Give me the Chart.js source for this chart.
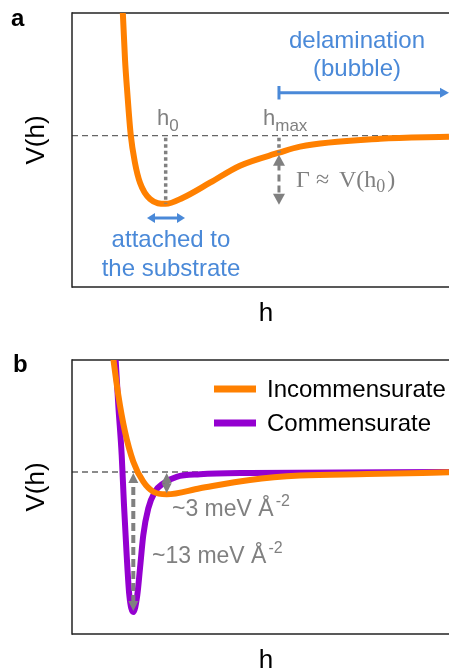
<!DOCTYPE html>
<html>
<head>
<meta charset="utf-8">
<script src="https://cdn.jsdelivr.net/npm/chart.js@4.4.0/dist/chart.umd.min.js"></script>
<style>
  body { margin: 0; background: #fff; width: 449px; height: 672px; overflow: hidden; }
  .panel { position: relative; width: 449px; height: 336px; }
  canvas { display: block; }
</style>
</head>
<body>
<div class="panel"><canvas id="chartA" width="449" height="336"></canvas></div>
<div class="panel"><canvas id="chartB" width="449" height="336"></canvas></div>
<script>
// panel a: adhesion potential V(h), arbitrary units
const hA = [13.2, 14.06, 14.67, 15.57, 16.71, 18.04, 20.69, 24.85, 29.44, 36.6, 44.56, 54.9, 60.5, 81.7, 100];
const vA = [2.15, 1.12, 0.63, 0.015, -0.4, -0.69, -0.93, -1.0, -0.91, -0.69, -0.44, -0.25, -0.16, -0.045, -0.015];
const h0A = 24.85;
const hMaxA = 54.9;

// panel b: incommensurate vs commensurate (meV/A^2)
const hInc = [10.48, 12.28, 14.06, 16.26, 18.91, 21.57, 25.12, 33.95, 47.2, 60.5, 78.25, 100];
const vInc = [11.8, 7.15, 3.74, 0.96, -0.9, -1.83, -2.07, -1.51, -0.74, -0.33, -0.19, -0.03];
const hCom = [11.27, 12.28, 13.18, 13.79, 14.5, 15.2, 16.26, 17.32, 18.04, 18.91, 20.24, 22.0, 24.22, 27.77, 33.95, 47.2, 100];
const vCom = [12.3, 6.22, 1.58, -3.06, -7.71, -11.42, -13, -11.42, -8.94, -5.85, -3.37, -1.83, -1.05, -0.44, -0.21, -0.09, 0];
const legendLabels = ["Incommensurate", "Commensurate"];

const ORANGE = "#ff8000";
const PURPLE = "#9400d0";
const BLUE = "#4a89d8";
const GREY = "#808080";
const SANS = "'Liberation Sans', Arial, sans-serif";
const SERIF = "'Liberation Serif', 'Times New Roman', serif";

function toPoints(xs, ys) {
  return xs.map((x, i) => ({ x: x, y: ys[i] }));
}

function line(ctx, x1, y1, x2, y2, color, width, dash) {
  ctx.save();
  ctx.strokeStyle = color;
  ctx.lineWidth = width;
  ctx.setLineDash(dash || []);
  ctx.beginPath();
  ctx.moveTo(x1, y1);
  ctx.lineTo(x2, y2);
  ctx.stroke();
  ctx.restore();
}

function head(ctx, x, y, ang, len, half, color) {
  ctx.save();
  ctx.fillStyle = color;
  ctx.translate(x, y);
  ctx.rotate(ang);
  ctx.beginPath();
  ctx.moveTo(0, 0);
  ctx.lineTo(-len, -half);
  ctx.lineTo(-len, half);
  ctx.closePath();
  ctx.fill();
  ctx.restore();
}

// arrow from (x1,y1) to (x2,y2), heads optional on either end
function arrow(ctx, x1, y1, x2, y2, o) {
  const ang = Math.atan2(y2 - y1, x2 - x1);
  const dx = Math.cos(ang) * o.len, dy = Math.sin(ang) * o.len;
  const sx = o.start ? x1 + dx * 0.8 : x1, sy = o.start ? y1 + dy * 0.8 : y1;
  const ex = o.end ? x2 - dx * 0.8 : x2, ey = o.end ? y2 - dy * 0.8 : y2;
  line(ctx, sx, sy, ex, ey, o.color, o.width, o.dash);
  if (o.end) head(ctx, x2, y2, ang, o.len, o.half, o.color);
  if (o.start) head(ctx, x1, y1, ang + Math.PI, o.len, o.half, o.color);
}

function text(ctx, str, x, y, font, color, align) {
  ctx.save();
  ctx.font = font;
  ctx.fillStyle = color;
  ctx.textAlign = align || "left";
  ctx.textBaseline = "alphabetic";
  ctx.fillText(str, x, y);
  const w = ctx.measureText(str).width;
  ctx.restore();
  return w;
}

function rotatedText(ctx, str, x, y, font, color) {
  ctx.save();
  ctx.translate(x, y);
  ctx.rotate(-Math.PI / 2);
  ctx.font = font;
  ctx.fillStyle = color;
  ctx.textAlign = "center";
  ctx.textBaseline = "middle";
  ctx.fillText(str, 0, 0);
  ctx.restore();
}

// frame (left, top, bottom) and the dashed V = 0 line, under the curves
const framePlugin = {
  id: "frame",
  beforeDatasetsDraw(chart) {
    const { ctx, chartArea: a, scales } = chart;
    const y0 = scales.y.getPixelForValue(0);
    line(ctx, a.left, y0, a.right, y0, "#666", 1.3, [6, 4]);
    line(ctx, a.left, a.top, a.right, a.top, "#222", 1.5);
    line(ctx, a.left, a.bottom, a.right, a.bottom, "#222", 1.5);
    line(ctx, a.left, a.top - 0.75, a.left, a.bottom + 0.75, "#222", 1.5);
  }
};

const notesA = {
  id: "notesA",
  afterDraw(chart) {
    const { ctx, scales } = chart;
    const x = scales.x, y = scales.y;
    const y0 = y.getPixelForValue(0);
    const xh0 = x.getPixelForValue(h0A);
    const yMin = y.getPixelForValue(Math.min(...vA));
    const xhm = x.getPixelForValue(hMaxA);
    const yhm = y.getPixelForValue(vA[hA.indexOf(hMaxA)]);

    line(ctx, xh0, y0 + 2, xh0, yMin, GREY, 3.5, [3.5, 3]);
    line(ctx, xhm, y0 + 2, xhm, yhm, GREY, 3.5, [3.5, 3]);
    arrow(ctx, xhm, yhm + 2, xhm, yMin + 1, { color: GREY, width: 3, dash: [7, 4], len: 11, half: 6, start: true, end: true });

    let w = text(ctx, "h", 157, 125, "22px " + SANS, GREY);
    text(ctx, "0", 157 + w, 131, "17px " + SANS, GREY);
    w = text(ctx, "h", 263, 125, "22px " + SANS, GREY);
    text(ctx, "max", 263 + w, 131, "17px " + SANS, GREY);

    // Gamma ~ V(h0), spaced like math text
    const f = "24px " + SERIF;
    text(ctx, "\u0393", 296, 187, f, GREY);
    text(ctx, "\u2248", 316, 187, f, GREY);
    w = text(ctx, "V(h", 339, 187, f, GREY);
    const w2 = text(ctx, "0", 339 + w, 192, "18px " + SERIF, GREY);
    text(ctx, ")", 339 + w + w2 + 2, 187, f, GREY);

    // delamination range
    line(ctx, xhm, 86, xhm, 99.5, BLUE, 3);
    arrow(ctx, xhm, 92.7, 449, 92.7, { color: BLUE, width: 3, len: 9, half: 5, end: true });
    text(ctx, "delamination", 357, 48, "24px " + SANS, BLUE, "center");
    text(ctx, "(bubble)", 357, 76, "24px " + SANS, BLUE, "center");

    // attached range
    arrow(ctx, 147, 218, 185, 218, { color: BLUE, width: 3, len: 8, half: 5, start: true, end: true });
    text(ctx, "attached to", 171, 247, "24px " + SANS, BLUE, "center");
    text(ctx, "the substrate", 171, 276, "24px " + SANS, BLUE, "center");

    text(ctx, "a", 11, 26, "bold 24px " + SANS, "#000");
    rotatedText(ctx, "V(h)", 37, 140, "26px " + SANS, "#000");
    text(ctx, "h", 266, 321, "26px " + SANS, "#000", "center");
  }
};

const notesB = {
  id: "notesB",
  afterDraw(chart) {
    const { ctx, scales } = chart;
    const x = scales.x, y = scales.y;
    const y0 = y.getPixelForValue(0);
    const comMin = Math.min(...vCom), incMin = Math.min(...vInc);
    const xc = x.getPixelForValue(hCom[vCom.indexOf(comMin)]);
    const xi = x.getPixelForValue(hInc[vInc.indexOf(incMin)]);
    const da = { color: GREY, width: 4, dash: [8, 4], len: 10, half: 5, start: true, end: true };
    arrow(ctx, xc, y.getPixelForValue(comMin) - 1, xc, y0 + 1, da);
    arrow(ctx, xi, y.getPixelForValue(incMin) - 1, xi, y0 + 1, da);

    let w = text(ctx, "~3 meV \u00c5", 172, 180, "23px " + SANS, GREY);
    text(ctx, "-2", 174 + w, 170, "16px " + SANS, GREY);
    w = text(ctx, "~13 meV \u00c5", 152, 227, "23px " + SANS, GREY);
    text(ctx, "-2", 154 + w, 217, "16px " + SANS, GREY);

    const colors = [ORANGE, PURPLE];
    legendLabels.forEach((lab, i) => {
      const ly = 53 + i * 34;
      line(ctx, 214, ly, 256, ly, colors[i], 7);
      ctx.save();
      ctx.font = "24px " + SANS;
      ctx.fillStyle = "#000";
      ctx.textBaseline = "middle";
      ctx.fillText(lab, 267, ly + 1);
      ctx.restore();
    });

    text(ctx, "b", 13, 36, "bold 24px " + SANS, "#000");
    rotatedText(ctx, "V(h)", 37, 151, "26px " + SANS, "#000");
    text(ctx, "h", 266, 332, "26px " + SANS, "#000", "center");
  }
};

function baseOptions(ymin, ymax, pad) {
  return {
    responsive: false,
    animation: false,
    layout: { padding: pad },
    elements: { point: { radius: 0 } },
    plugins: { legend: { display: false }, tooltip: { enabled: false } },
    scales: {
      x: { type: "linear", min: 0, max: 100, display: false },
      y: { type: "linear", min: ymin, max: ymax, display: false }
    }
  };
}

const chartA = new Chart("chartA", {
  type: "line",
  data: {
    datasets: [
      {
        label: "V(h)",
        data: toPoints(hA, vA),
        borderColor: ORANGE,
        borderWidth: 6,
        cubicInterpolationMode: "monotone",
        fill: false,
        clip: 0,
      },
    ],
  },
  options: baseOptions(-2.22, 1.8, { left: 72, right: 0, top: 13, bottom: 49 }),
  plugins: [framePlugin, notesA],
});

const chartB = new Chart("chartB", {
  type: "line",
  data: {
    datasets: [
      {
        label: legendLabels[0],
        data: toPoints(hInc, vInc),
        borderColor: ORANGE,
        borderWidth: 6,
        cubicInterpolationMode: "monotone",
        fill: false,
        clip: 0,
        order: 1,
      },
      {
        label: legendLabels[1],
        data: toPoints(hCom, vCom),
        borderColor: PURPLE,
        borderWidth: 6,
        cubicInterpolationMode: "monotone",
        fill: false,
        clip: 0,
        order: 2,
      },
    ],
  },
  options: baseOptions(-15.04, 10.4, { left: 72, right: 0, top: 24, bottom: 38 }),
  plugins: [framePlugin, notesB],
});
</script>
</body>
</html>
